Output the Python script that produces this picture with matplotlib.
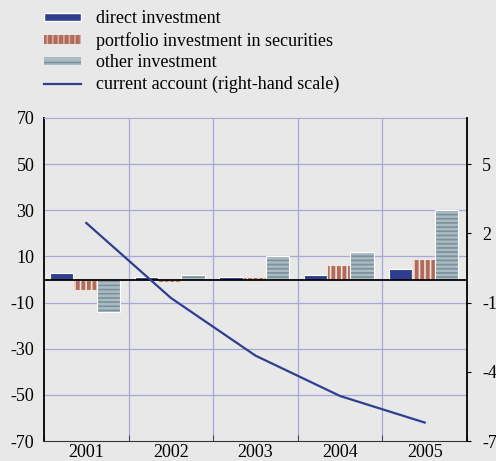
import numpy as np
import matplotlib
matplotlib.use('Agg')
import matplotlib.pyplot as plt
from matplotlib.patches import Rectangle
from matplotlib.lines import Line2D

# data
years = ['2001', '2002', '2003', '2004', '2005']
direct = [3.0, 1.0, 1.0, 2.0, 4.5]
portfolio = [-4.5, -1.0, 1.0, 6.5, 9.0]
other = [-14.0, 2.0, 10.0, 12.0, 30.0]
current_account = [2.45, -0.8, -3.3, -5.05, -6.2]   # right-hand scale
left_ticks = [-70, -50, -30, -10, 10, 30, 50, 70]
right_ticks = [-7, -4, -1, 2, 5]

bg = '#e8e8e8'
grid_c = '#a7a7d9'
navy = '#2f3e8e'

plt.rcParams['font.family'] = ['Liberation Serif', 'DejaVu Serif']
plt.rcParams['font.size'] = 13
plt.rcParams['hatch.linewidth'] = 1.2

fig = plt.figure(figsize=(4.96, 4.61), dpi=100, facecolor=bg)
ax = fig.add_axes([44/496, 20/461, 423/496, 323/461])
ax.set_facecolor(bg)

x = np.arange(len(years))
w = 0.275
off = -0.015

ax.bar(x - w + off, direct, w, color=navy, edgecolor='white', linewidth=0.8, zorder=3)
plt.rcParams['hatch.color'] = '#d8aa9b'
ax.bar(x + off, portfolio, w, color='#b06b5a', edgecolor='#f2e4df', hatch='|||',
       linewidth=0.8, zorder=3)
ax.bar(x + w + off, other, w, color='#a9bcc3', edgecolor='#7c909a', hatch='----',
       linewidth=0.0, zorder=3)
# white outline for other bars
ax.bar(x + w + off, other, w, fill=False, edgecolor='white', linewidth=0.8, zorder=3)

ax.axhline(0, color='black', linewidth=1.3, zorder=4)

ax.set_xlim(-0.5, 4.5)
ax.set_ylim(-70, 70)
ax.set_yticks(left_ticks)
ax.set_yticklabels([str(t) for t in left_ticks])
ax.set_xticks(x)
ax.set_xticklabels(years)
ax.set_xticks(np.arange(-0.5, 5, 1), minor=True)
ax.tick_params(axis='x', which='major', length=0, pad=2)
ax.tick_params(axis='x', which='minor', length=4, direction='in', color='#333333')
ax.tick_params(axis='y', length=0, pad=7)

for v in [-50, -30, -10, 10, 30, 50]:
    ax.axhline(v, color=grid_c, linewidth=0.9, zorder=1)
for v in [0.5, 1.5, 2.5, 3.5]:
    ax.axvline(v, color=grid_c, linewidth=0.9, zorder=1)

ax.spines['top'].set_color(grid_c)
ax.spines['left'].set_linewidth(1.3)
ax.spines['bottom'].set_color('#333333')
ax.spines['right'].set_visible(False)

ax2 = ax.twinx()
ax2.plot(x, current_account, color=navy, linewidth=1.6, zorder=5)
ax2.set_ylim(-7, 7)
ax2.set_yticks(right_ticks)
ax2.set_yticklabels([str(t) for t in right_ticks])
ax2.tick_params(axis='y', length=3, direction='out', pad=8)
for s in ['top', 'left', 'bottom']:
    ax2.spines[s].set_visible(False)
ax2.spines['right'].set_linewidth(1.3)

handles = [
    Rectangle((0, 0), 1, 1, facecolor=navy, edgecolor='white'),
    Rectangle((0, 0), 1, 1, facecolor='#b06b5a', edgecolor='#d8aa9b', hatch='|||', linewidth=0),
    Rectangle((0, 0), 1, 1, facecolor='#a9bcc3', edgecolor='#7c909a', hatch='--', linewidth=0),
    Line2D([0], [0], color=navy, linewidth=1.6),
]
labels = ['direct investment', 'portfolio investment in securities',
          'other investment', 'current account (right-hand scale)']
fig.legend(handles, labels, loc='upper left', bbox_to_anchor=(0.075, 0.993),
           frameon=False, handlelength=2.05, handleheight=0.35, handletextpad=0.8,
           labelspacing=0.25, borderaxespad=0)

fig.savefig('out.png', dpi=100, facecolor=bg)
